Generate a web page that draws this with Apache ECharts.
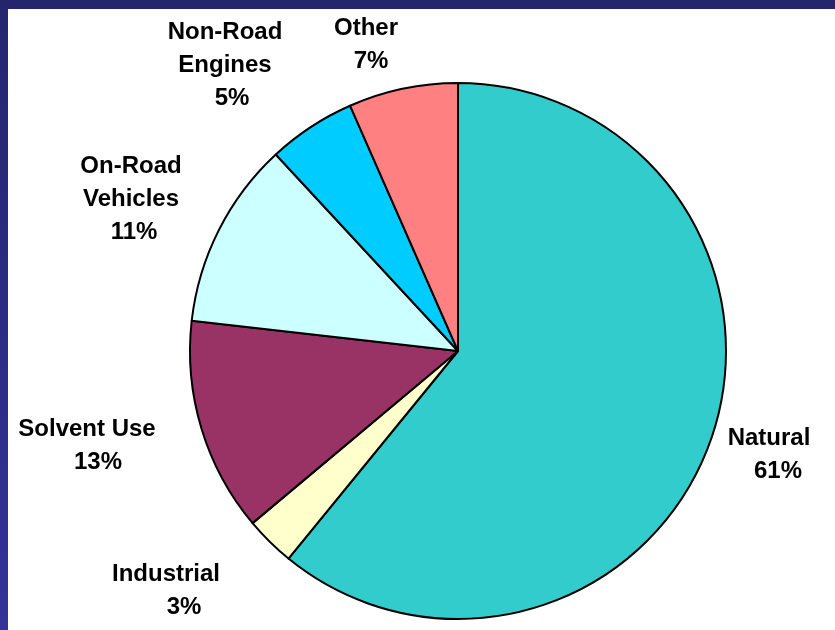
<!DOCTYPE html>
<html>
<head>
<meta charset="utf-8">
<script src="https://cdn.jsdelivr.net/npm/echarts@6/dist/echarts.min.js"></script>
<style>
html,body{margin:0;padding:0;width:835px;height:630px;overflow:hidden;}
body{background:linear-gradient(to bottom,#25256e,#333399);position:relative;}
#paper{position:absolute;left:8px;top:9px;right:0;bottom:0;background:#ffffff;}
#chart{position:absolute;left:0;top:0;width:835px;height:630px;}
</style>
</head>
<body>
<div id="paper"></div>
<div id="chart"></div>
<script>
// Data
const categories = ['Natural', 'Industrial', 'Solvent Use', 'On-Road\nVehicles', 'Non-Road\nEngines', 'Other'];
const shares = [60.9, 3, 12.9, 11.3, 5.3, 6.6];
const sliceColors = ['#33CCCC', '#FFFFCC', '#993366', '#CCFFFF', '#00CCFF', '#FF8080'];

// Label placement (block centres) and percent-line shift
const labelAnchors = [[769, 455], [166, 591], [87, 446], [131, 199], [225, 65], [366, 45]];
const pctShift = [9, 18, 11, 3, 7, 5];

const rich = {};
pctShift.forEach(function (d, i) {
  rich['p' + i] = { padding: [0, 0, 0, 2 * d], fontSize: 24, fontWeight: 'bold', lineHeight: 33, color: '#000', fontFamily: 'Liberation Sans, Arial, sans-serif' };
});
rich.n = { fontSize: 24, fontWeight: 'bold', lineHeight: 33, color: '#000', fontFamily: 'Liberation Sans, Arial, sans-serif' };

const chart = echarts.init(document.getElementById('chart'), null, { renderer: 'canvas' });
chart.setOption({
  backgroundColor: 'transparent',
  animation: false,
  series: [{
    type: 'pie',
    center: [458, 351],
    radius: [0, 268],
    startAngle: 90,
    clockwise: true,
    avoidLabelOverlap: false,
    data: categories.map(function (c, i) {
      return { name: c, value: shares[i], itemStyle: { color: sliceColors[i] } };
    }),
    itemStyle: { borderColor: '#000', borderWidth: 2 },
    emphasis: { disabled: true },
    label: {
      show: true,
      position: 'outside',
      align: 'center',
      fontSize: 24,
      fontWeight: 'bold',
      lineHeight: 33,
      color: '#000',
      fontFamily: 'Liberation Sans, Arial, sans-serif',
      formatter: function (p) {
        const lines = p.name.split('\n').map(function (s) { return '{n|' + s + '}'; });
        lines.push('{p' + p.dataIndex + '|' + Math.round(p.percent) + '%}');
        return lines.join('\n');
      },
      rich: rich
    },
    labelLine: { show: false },
    labelLayout: function (params) {
      const a = labelAnchors[params.dataIndex];
      return { x: a[0], y: a[1], align: 'center', verticalAlign: 'middle' };
    }
  }]
});
</script>
</body>
</html>
